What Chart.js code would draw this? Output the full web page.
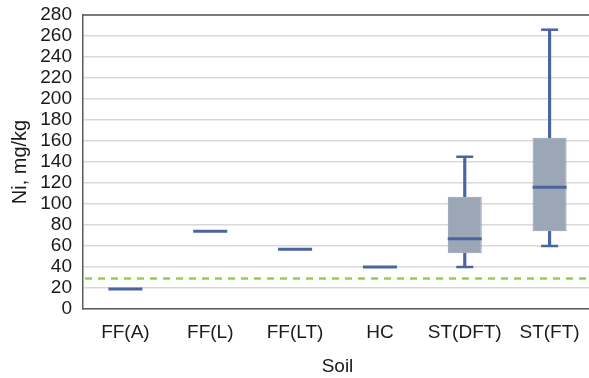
<!DOCTYPE html>
<html>
<head>
<meta charset="utf-8">
<script src="https://cdn.jsdelivr.net/npm/chart.js@4/dist/chart.umd.min.js"></script>
<style>
html,body{margin:0;padding:0;background:#fff;overflow:hidden;}
canvas{display:block;}
</style>
</head>
<body>
<canvas id="c" width="594" height="378"></canvas>
<script>
const categories = ['FF(A)', 'FF(L)', 'FF(LT)', 'HC', 'ST(DFT)', 'ST(FT)'];
const mins    = [19, 74, 56, 40, 40, 60];
const q1s     = [19, 74, 56, 40, 53, 74];
const medians = [19, 74, 57, 40, 67, 116];
const q3s     = [19, 74, 58, 40, 107, 163];
const maxs    = [19, 74, 58, 40, 145, 266];
const threshold = 29;
const yTicks = [0, 20, 40, 60, 80, 100, 120, 140, 160, 180, 200, 220, 240, 260, 280];

const hasBox = q1s.map((v, i) => q3s[i] > v);
const boxData = categories.map((c, i) => hasBox[i] ? [q1s[i], q3s[i]] : null);
const lowWhisk = categories.map((c, i) => q1s[i] > mins[i] ? [mins[i], q1s[i]] : null);
const highWhisk = categories.map((c, i) => maxs[i] > q3s[i] ? [q3s[i], maxs[i]] : null);
const capMin = categories.map((c, i) => q1s[i] > mins[i] ? mins[i] : null);
const capMax = categories.map((c, i) => maxs[i] > q3s[i] ? maxs[i] : null);

const FONT = "'Liberation Sans', Arial, sans-serif";
const BLUE = '#4a64a0';

const thresholdPlugin = {
  id: 'threshold',
  afterDatasetsDraw(chart) {
    const {ctx, chartArea, scales} = chart;
    const y = scales.y.getPixelForValue(threshold);
    ctx.save();
    ctx.strokeStyle = '#92d050';
    ctx.lineWidth = 2.5;
    ctx.setLineDash([7, 6]);
    ctx.beginPath();
    ctx.moveTo(chartArea.left + 2, y);
    ctx.lineTo(chartArea.right, y);
    ctx.stroke();
    ctx.restore();
  }
};

const frameTop = {
  id: 'frameTop',
  afterDraw(chart) {
    const {ctx, chartArea} = chart;
    ctx.save();
    ctx.strokeStyle = '#5a5a5a';
    ctx.lineWidth = 1.5;
    ctx.beginPath();
    ctx.moveTo(chartArea.left, chartArea.top);
    ctx.lineTo(chartArea.right, chartArea.top);
    ctx.lineTo(chartArea.right, chartArea.bottom);
    ctx.stroke();
    ctx.restore();
  }
};

function zeroPad(s) { s.paddingLeft = 0; s.paddingRight = 0; s.paddingTop = 0; s.paddingBottom = 0; }

new Chart(document.getElementById('c'), {
  data: {
    labels: categories,
    datasets: [
      { type: 'bar', data: boxData, backgroundColor: '#9ba6b7', borderColor: '#8e9aad', borderWidth: 1,
        borderSkipped: false, grouped: false, barPercentage: 0.4, categoryPercentage: 1, order: 4 },
      { type: 'bar', data: lowWhisk, backgroundColor: BLUE, borderWidth: 0, grouped: false,
        barThickness: 2.5, order: 5 },
      { type: 'bar', data: highWhisk, backgroundColor: BLUE, borderWidth: 0, grouped: false,
        barThickness: 2.5, order: 5 },
      { type: 'line', data: capMin, showLine: false, pointStyle: 'line', pointRadius: 8.5,
        pointBorderWidth: 2.5, borderColor: BLUE, pointBorderColor: BLUE, order: 1, clip: false },
      { type: 'line', data: capMax, showLine: false, pointStyle: 'line', pointRadius: 8.5,
        pointBorderWidth: 2.5, borderColor: BLUE, pointBorderColor: BLUE, order: 1, clip: false },
      { type: 'line', data: medians, showLine: false, pointStyle: 'line', pointRadius: 17,
        pointBorderWidth: 3, borderColor: BLUE, pointBorderColor: BLUE, order: 0, clip: false }
    ]
  },
  options: {
    responsive: false,
    animation: false,
    events: [],
    layout: { autoPadding: false, padding: { top: 15, right: 2, left: 0, bottom: 0 } },
    plugins: { legend: { display: false }, tooltip: { enabled: false } },
    scales: {
      x: {
        type: 'category',
        offset: true,
        grid: { display: false, drawTicks: false },
        border: { display: true, color: '#5a5a5a', width: 1.5 },
        ticks: { color: '#1a1a1a', font: { family: FONT, size: 19 }, padding: 12, maxRotation: 0, autoSkip: false },
        title: { display: true, text: 'Soil', color: '#1a1a1a', font: { family: FONT, size: 19 }, padding: { top: 0, bottom: 0 } },
        afterFit(s) { s.height = 69; zeroPad(s); }
      },
      y: {
        min: 0, max: 280,
        afterBuildTicks(s) { s.ticks = yTicks.map(v => ({ value: v })); },
        grid: { drawTicks: false, color: '#d9d9d9', lineWidth: 1.5 },
        border: { display: true, color: '#5a5a5a', width: 1.5 },
        ticks: { color: '#1a1a1a', font: { family: FONT, size: 19 }, padding: 11, autoSkip: false },
        title: { display: true, text: 'Ni, mg/kg', color: '#1a1a1a', font: { family: FONT, size: 20 }, padding: { top: 8, bottom: 0 } },
        afterFit(s) { s.width = 83; zeroPad(s); }
      }
    }
  },
  plugins: [thresholdPlugin, frameTop]
});
</script>
</body>
</html>
